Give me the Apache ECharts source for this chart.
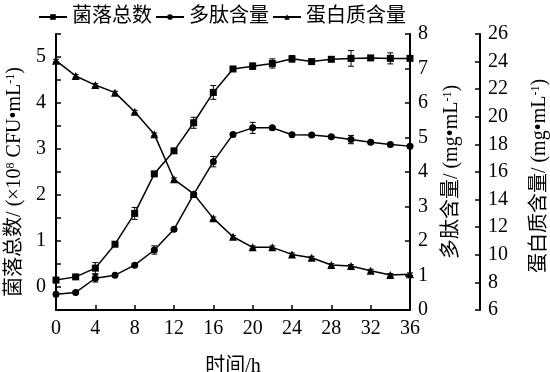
<!DOCTYPE html>
<html>
<head>
<meta charset="utf-8">
<script src="https://cdn.jsdelivr.net/npm/echarts@6/dist/echarts.min.js"></script>
<style>html,body{margin:0;padding:0;background:#fff}#c{width:550px;height:372px}</style>
</head>
<body>
<div id="c"></div>
<script>
// ---- data ----
var times = [0,2,4,6,8,10,12,14,16,18,20,22,24,26,28,30,32,34,36];
var colony = [0.15,0.22,0.41,0.93,1.60,2.46,2.96,3.57,4.23,4.74,4.80,4.86,4.96,4.90,4.95,4.97,4.98,4.97,4.97];
var colonyErr = [0.03,0.03,0.12,0.04,0.13,0.05,0.05,0.12,0.15,0.03,0.07,0.10,0.07,0.03,0.03,0.17,0.05,0.12,0.03];
var peptide = [0.46,0.51,0.92,1.01,1.30,1.74,2.34,3.35,4.30,5.09,5.28,5.28,5.08,5.07,5.02,4.94,4.86,4.80,4.75];
var peptideErr = [0.03,0.03,0.11,0.03,0.04,0.12,0.05,0.05,0.15,0.04,0.16,0.04,0.04,0.04,0.04,0.12,0.04,0.04,0.04];
var protein = [24.07,22.96,22.30,21.75,20.37,18.73,15.47,14.41,12.64,11.31,10.54,10.54,10.03,9.79,9.26,9.19,8.85,8.54,8.59];
var proteinErr = [0.1,0.1,0.1,0.1,0.1,0.1,0.1,0.1,0.1,0.1,0.1,0.1,0.1,0.1,0.1,0.1,0.1,0.1,0.1];
var seriesNames = ['菌落总数','多肽含量','蛋白质含量'];
var xTickLabels = ['0','4','8','12','16','20','24','28','32','36'];

var FONT = '"Liberation Serif", "Noto Sans CJK SC", serif';
var black = '#000';

function pairs(vals){ return times.map(function(t,i){ return [t, vals[i]]; }); }
function errData(vals, errs){ return times.map(function(t,i){ return [t, vals[i]-errs[i], vals[i]+errs[i]]; }); }
function errSeries(vals, errs, yIdx){
  return {
    type:'custom', yAxisIndex:yIdx, silent:true, z:3,
    data: errData(vals, errs),
    encode:{x:0, y:[1,2]},
    renderItem: function(params, api){
      var x = api.value(0);
      var lo = api.coord([x, api.value(1)]);
      var hi = api.coord([x, api.value(2)]);
      var w = 3;
      var st = {stroke:black, lineWidth:1};
      return {type:'group', children:[
        {type:'line', shape:{x1:lo[0],y1:lo[1],x2:hi[0],y2:hi[1]}, style:st},
        {type:'line', shape:{x1:lo[0]-w,y1:lo[1],x2:lo[0]+w,y2:lo[1]}, style:st},
        {type:'line', shape:{x1:hi[0]-w,y1:hi[1],x2:hi[0]+w,y2:hi[1]}, style:st}
      ]};
    }
  };
}

var nameRich = {
  a:{fontSize:20, fontFamily:FONT, color:black},
  s:{fontSize:12, fontFamily:FONT, color:black, verticalAlign:'top'}
};
var axisBase = {
  splitLine:{show:false},
  axisLine:{show:true, onZero:false, lineStyle:{color:black, width:2}},
  axisTick:{show:true, inside:true, length:5, lineStyle:{color:black, width:1.5}},
  axisLabel:{color:black, fontSize:20, fontFamily:FONT}
};
function merge(a,b){ var o={}; for (var k in a) o[k]=a[k]; for (var k2 in b) o[k2]=b[k2]; return o; }

var chart = echarts.init(document.getElementById('c'), null, {renderer:'canvas'});
chart.setOption({
  animation:false,
  backgroundColor:'#fff',
  textStyle:{fontFamily:FONT},
  legend:{
    data:seriesNames, left:33, top:2, itemWidth:28, itemHeight:7, itemGap:3,
    textStyle:{fontSize:20, color:black, fontFamily:FONT}
  },
  grid:{left:56, right:140, top:34, bottom:62, outerBoundsMode:'none'},
  xAxis: merge(axisBase, {
    type:'value', min:0, max:36, interval:4,
    name:'时间/h', nameLocation:'middle', nameGap:47,
    nameTextStyle:{fontSize:20, color:black, fontFamily:FONT},
    axisLabel:{color:black, fontSize:20, fontFamily:FONT, margin:9,
      formatter:function(v){ var i = xTickLabels.indexOf(String(v)); return i>=0 ? xTickLabels[i] : ''; }}
  }),
  yAxis:[
    merge(axisBase, {
      type:'value', position:'left', min:-0.5, max:5.5, interval:0.5,
      name:'{a|菌落总数/ (×10}{s|8}{a| CFU•mL}{s|-1}{a|)}',
      nameLocation:'middle', nameRotate:90, nameGap:28,
      nameTextStyle:{rich:nameRich, padding:[0,0,0,-20]},
      axisLabel:{color:black, fontSize:20, fontFamily:FONT, margin:10,
        formatter:function(v){ return Math.abs(v-Math.round(v))<1e-9 ? String(Math.round(v)) : ''; }}
    }),
    merge(axisBase, {
      type:'value', position:'right', min:0, max:8, interval:1,
      name:'{a|多肽含量/ (mg•mL}{s|-1}{a|)}',
      nameLocation:'middle', nameRotate:90, nameGap:32,
      nameTextStyle:{rich:nameRich},
      axisLabel:{color:black, fontSize:20, fontFamily:FONT, margin:8}
    }),
    merge(axisBase, {
      type:'value', position:'right', offset:70, min:6, max:26, interval:2,
      name:'{a|蛋白质含量/ (mg•mL}{s|-1}{a|)}',
      nameLocation:'middle', nameRotate:90, nameGap:50,
      nameTextStyle:{rich:nameRich, padding:[0,0,0,-8]},
      axisLabel:{color:black, fontSize:20, fontFamily:FONT, margin:8}
    })
  ],
  series:[
    errSeries(colony, colonyErr, 0),
    errSeries(peptide, peptideErr, 1),
    errSeries(protein, proteinErr, 2),
    {name:seriesNames[0], type:'line', yAxisIndex:0, data:pairs(colony),
     symbol:'rect', symbolSize:7, z:4,
     lineStyle:{color:black, width:1.5}, itemStyle:{color:black}},
    {name:seriesNames[1], type:'line', yAxisIndex:1, data:pairs(peptide),
     symbol:'circle', symbolSize:7, z:4,
     lineStyle:{color:black, width:1.5}, itemStyle:{color:black}},
    {name:seriesNames[2], type:'line', yAxisIndex:2, data:pairs(protein),
     symbol:'triangle', symbolSize:8, z:4,
     lineStyle:{color:black, width:1.5}, itemStyle:{color:black}}
  ]
});
</script>
</body>
</html>
